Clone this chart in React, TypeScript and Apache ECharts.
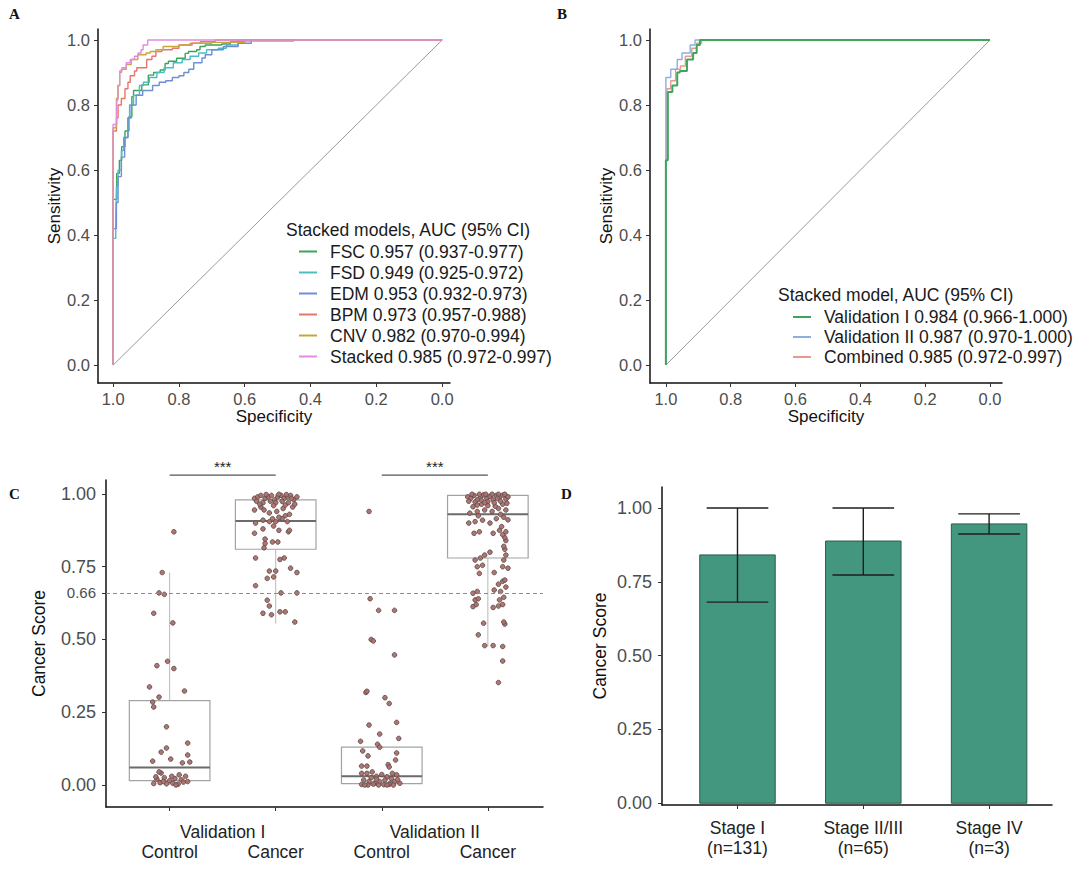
import React, { useEffect, useRef } from "react";
import * as echarts from "echarts";

const FONT = "Liberation Sans";
const SERIF = "Liberation Serif";

// ---------- Panel A / B : ROC ----------
const specTicks = [1, 0.8, 0.6, 0.4, 0.2, 0];
const sensTicks = [0, 0.2, 0.4, 0.6, 0.8, 1];
const diagonal = [[1, 0], [0, 1]];

const rocNamesA = [
  "FSC 0.957 (0.937-0.977)",
  "FSD 0.949 (0.925-0.972)",
  "EDM 0.953 (0.932-0.973)",
  "BPM 0.973 (0.957-0.988)",
  "CNV 0.982 (0.970-0.994)",
  "Stacked 0.985 (0.972-0.997)",
];
const rocColorsA = ["#3aa457", "#4cbcc4", "#6e8fd6", "#e8756c", "#c8a738", "#e28be0"];

const fscRoc = [[1, 0], [1, 0.47], [0.989, 0.51], [0.981, 0.59], [0.974, 0.63], [0.964, 0.672], [0.952, 0.72], [0.943, 0.764], [0.938, 0.826], [0.913, 0.845], [0.893, 0.862], [0.877, 0.892], [0.857, 0.9], [0.842, 0.908], [0.832, 0.928], [0.807, 0.935], [0.781, 0.944], [0.771, 0.959], [0.746, 0.965], [0.736, 0.97], [0.72, 0.98], [0.67, 0.985], [0.644, 0.988], [0.6, 0.994], [0.574, 1], [0, 1]];
const fsdRoc = [[1, 0], [0.992, 0.39], [0.99, 0.45], [0.985, 0.55], [0.975, 0.6], [0.968, 0.66], [0.955, 0.7], [0.95, 0.76], [0.938, 0.8], [0.92, 0.83], [0.908, 0.86], [0.89, 0.87], [0.867, 0.885], [0.845, 0.9], [0.817, 0.915], [0.79, 0.93], [0.766, 0.94], [0.74, 0.95], [0.716, 0.96], [0.68, 0.97], [0.656, 0.975], [0.62, 0.985], [0.57, 1], [0, 1]];
const edmRoc = [[1, 0], [0.99, 0.42], [0.985, 0.5], [0.975, 0.58], [0.965, 0.64], [0.955, 0.7], [0.945, 0.76], [0.93, 0.8], [0.91, 0.83], [0.88, 0.845], [0.86, 0.86], [0.84, 0.87], [0.82, 0.875], [0.8, 0.885], [0.785, 0.89], [0.77, 0.9], [0.755, 0.91], [0.73, 0.93], [0.72, 0.945], [0.7, 0.955], [0.665, 0.97], [0.62, 0.98], [0.58, 0.99], [0.57, 1], [0, 1]];
const bpmRoc = [[1, 0], [1, 0.68], [0.99, 0.72], [0.985, 0.76], [0.975, 0.8], [0.964, 0.82], [0.955, 0.85], [0.948, 0.87], [0.935, 0.89], [0.928, 0.905], [0.898, 0.915], [0.882, 0.94], [0.87, 0.95], [0.852, 0.965], [0.82, 0.97], [0.8, 0.975], [0.76, 0.985], [0.735, 0.99], [0.69, 0.995], [0.65, 1], [0, 1]];
const cnvRoc = [[1, 0], [1, 0.71], [0.99, 0.73], [0.985, 0.82], [0.98, 0.86], [0.975, 0.9], [0.96, 0.91], [0.945, 0.925], [0.925, 0.94], [0.9, 0.955], [0.887, 0.96], [0.87, 0.965], [0.848, 0.97], [0.8, 0.98], [0.766, 0.985], [0.7, 0.99], [0.6, 0.993], [0.45, 0.997], [0.3, 1], [0, 1]];
const stackedRoc = [[1, 0], [1, 0.71], [0.989, 0.74], [0.986, 0.815], [0.98, 0.86], [0.973, 0.905], [0.96, 0.915], [0.948, 0.93], [0.935, 0.94], [0.924, 0.95], [0.915, 0.96], [0.909, 0.97], [0.895, 0.985], [0.882, 1], [0, 1]];
const rocDataA = [fscRoc, fsdRoc, edmRoc, bpmRoc, cnvRoc, stackedRoc];

const rocNamesB = [
  "Validation I 0.984 (0.966-1.000)",
  "Validation II 0.987 (0.970-1.000)",
  "Combined 0.985 (0.972-0.997)",
];
const rocColorsB = ["#3ea65a", "#8eaee0", "#e59a8e"];
const valIRoc = [[1, 0], [1, 0.44], [0.994, 0.63], [0.98, 0.84], [0.965, 0.86], [0.957, 0.9], [0.935, 0.905], [0.916, 0.94], [0.905, 0.96], [0.895, 0.985], [0.875, 1], [0, 1]];
const valIIRoc = [[1, 0], [1, 0.63], [0.985, 0.885], [0.965, 0.91], [0.95, 0.94], [0.925, 0.96], [0.91, 0.985], [0.895, 1], [0, 1]];
const combinedRoc = [[1, 0], [1, 0.44], [0.997, 0.63], [0.985, 0.85], [0.97, 0.875], [0.955, 0.91], [0.94, 0.92], [0.92, 0.95], [0.905, 0.975], [0.89, 0.99], [0.88, 1], [0, 1]];
const rocDataB = [valIRoc, valIIRoc, combinedRoc];

// ---------- Panel C : cancer score boxplots ----------
const groupNames = ["Validation I", "Validation II"];
const classNames = ["Control", "Cancer", "Control", "Cancer"];
const scoreTicks = [0, 0.25, 0.5, 0.66, 0.75, 1];
const cutoff = 0.66;
// [position, lowWhisker, q1, median, q3, highWhisker]
const boxStats = [
  [1, 0.0, 0.015, 0.06, 0.29, 0.73],
  [2, 0.555, 0.81, 0.907, 0.98, 1.0],
  [3, 0.0, 0.005, 0.03, 0.13, 0.13],
  [4, 0.475, 0.78, 0.93, 0.995, 1.0],
];
const sigBrackets = [[1, 2, 1.065, "***"], [3, 4, 1.065, "***"]];

// [jitter offset, score]
const controlV1Pts = [[0.04, 0.87], [-0.07, 0.73], [-0.1, 0.66], [-0.05, 0.655], [-0.15, 0.59], [0.03, 0.557], [-0.12, 0.41], [-0.02, 0.425], [0.04, 0.4], [-0.19, 0.337], [-0.1, 0.302], [0.14, 0.323], [-0.16, 0.285], [-0.15, 0.268], [-0.03, 0.2], [0.17, 0.144], [-0.08, 0.113], [-0.03, 0.127], [0.01, 0.089], [-0.16, 0.082], [0.17, 0.103], [0.12, 0.076], [0.19, 0.079], [-0.08, 0.041], [-0.12, 0.02], [-0.05, 0.025], [0.0, 0.015], [0.05, 0.022], [0.11, 0.018], [0.15, 0.03], [-0.15, 0.005], [-0.09, 0.008], [-0.03, 0.004], [0.03, 0.006], [0.08, 0.003], [0.13, 0.01], [-0.06, 0.012], [0.02, 0.03], [0.09, 0.035], [-0.1, 0.045], [0.06, 0.0], [-0.13, 0.028], [0.17, 0.012]];
const cancerV1Pts = [[0.18, 0.56], [-0.12, 0.59], [-0.04, 0.585], [0.04, 0.595], [0.09, 0.595], [-0.06, 0.615], [-0.08, 0.635], [0.05, 0.66], [0.2, 0.66], [-0.19, 0.685], [-0.08, 0.71], [-0.06, 0.735], [-0.02, 0.715], [0.0, 0.735], [0.14, 0.745], [0.2, 0.73], [-0.19, 0.78], [0.04, 0.775], [0.08, 0.78], [-0.1, 0.83], [-0.03, 0.835], [0.02, 0.835], [-0.1, 0.845], [-0.11, 0.815], [-0.2, 0.865], [0.03, 0.875], [0.12, 0.87], [-0.12, 0.88], [0.13, 0.875], [-0.19, 0.9], [-0.06, 0.905], [-0.03, 0.915], [0.0, 0.905], [0.06, 0.915], [0.11, 0.905], [-0.02, 0.89], [0.03, 0.92], [0.09, 0.925], [-0.12, 0.91], [0.13, 0.93], [-0.2, 0.945], [-0.14, 0.955], [-0.11, 0.945], [0.01, 0.94], [0.16, 0.955], [0.07, 0.95], [-0.06, 0.935], [-0.2, 0.985], [-0.17, 0.99], [-0.14, 0.995], [-0.1, 0.985], [-0.07, 0.99], [-0.04, 0.995], [-0.01, 0.98], [0.02, 0.99], [0.05, 0.995], [0.08, 0.985], [0.11, 0.99], [0.14, 0.995], [0.17, 0.98], [0.2, 0.99], [-0.18, 0.975], [-0.12, 0.97], [-0.05, 0.975], [0.0, 0.97], [0.06, 0.975], [0.12, 0.97], [0.18, 0.965], [-0.09, 0.998], [0.03, 0.999], [0.1, 0.998], [-0.15, 0.965], [0.15, 0.985], [-0.02, 0.96], [0.09, 0.962]];
const controlV2Pts = [[-0.12, 0.94], [-0.11, 0.64], [-0.03, 0.6], [0.12, 0.6], [-0.1, 0.5], [-0.08, 0.495], [0.12, 0.447], [-0.15, 0.318], [-0.14, 0.322], [0.03, 0.3], [0.07, 0.28], [-0.12, 0.206], [0.14, 0.215], [-0.02, 0.175], [-0.2, 0.15], [0.16, 0.16], [-0.04, 0.14], [-0.02, 0.13], [-0.18, 0.117], [0.14, 0.11], [-0.13, 0.1], [0.13, 0.086], [0.06, 0.07], [0.07, 0.062], [-0.19, 0.065], [-0.14, 0.065], [-0.19, 0.04], [-0.14, 0.04], [-0.09, 0.045], [-0.05, 0.03], [0.0, 0.036], [0.05, 0.028], [0.1, 0.04], [0.14, 0.035], [-0.17, 0.017], [-0.12, 0.012], [-0.07, 0.006], [-0.02, 0.012], [0.03, 0.017], [0.08, 0.006], [0.12, 0.012], [0.17, 0.006], [-0.19, 0.002], [-0.13, 0.0], [-0.08, 0.003], [-0.03, 0.0], [0.02, 0.001], [0.07, 0.002], [0.11, 0.0], [-0.16, 0.0], [-0.05, 0.02], [0.05, 0.0], [0.15, 0.018], [-0.1, 0.025], [0.09, 0.022]];
const cancerV2Pts = [[0.1, 0.352], [0.14, 0.426], [-0.03, 0.479], [0.05, 0.479], [0.14, 0.476], [-0.09, 0.516], [-0.04, 0.556], [0.16, 0.553], [0.15, 0.56], [-0.14, 0.613], [-0.11, 0.62], [0.05, 0.61], [0.1, 0.615], [0.14, 0.62], [-0.12, 0.636], [-0.09, 0.64], [0.11, 0.636], [0.15, 0.645], [-0.14, 0.659], [-0.1, 0.665], [0.06, 0.67], [0.12, 0.665], [0.17, 0.68], [0.1, 0.69], [0.14, 0.7], [0.16, 0.704], [-0.08, 0.727], [0.06, 0.73], [-0.1, 0.75], [-0.05, 0.755], [0.14, 0.75], [0.19, 0.745], [-0.12, 0.773], [-0.07, 0.78], [-0.03, 0.79], [0.02, 0.8], [0.15, 0.773], [0.17, 0.79], [0.16, 0.81], [0.15, 0.82], [0.17, 0.84], [0.16, 0.85], [0.14, 0.86], [-0.13, 0.865], [-0.08, 0.87], [0.05, 0.865], [0.11, 0.875], [0.17, 0.87], [0.13, 0.888], [-0.18, 0.9], [-0.12, 0.905], [-0.05, 0.91], [0.02, 0.9], [0.08, 0.915], [0.15, 0.92], [0.19, 0.911], [-0.09, 0.925], [0.12, 0.93], [-0.17, 0.934], [-0.1, 0.94], [-0.03, 0.945], [0.04, 0.94], [0.1, 0.95], [0.17, 0.945], [-0.14, 0.956], [0.0, 0.96], [0.07, 0.958], [0.14, 0.965], [-0.06, 0.965], [-0.19, 0.99], [-0.16, 0.985], [-0.13, 0.995], [-0.1, 0.98], [-0.07, 0.99], [-0.04, 0.997], [-0.01, 0.985], [0.02, 0.992], [0.05, 0.98], [0.08, 0.995], [0.11, 0.988], [0.14, 0.996], [0.17, 0.982], [0.19, 0.99], [-0.18, 0.975], [-0.12, 0.972], [-0.06, 0.978], [0.0, 0.974], [0.06, 0.97], [0.12, 0.975], [0.18, 0.968], [-0.15, 0.999], [-0.08, 0.999], [-0.02, 0.999], [0.04, 0.999], [0.1, 0.999], [0.16, 0.999], [-0.1, 0.962], [0.09, 0.985], [-0.03, 0.97]];
const pointGroups = [controlV1Pts, cancerV1Pts, controlV2Pts, cancerV2Pts];

// ---------- Panel D : stage bars ----------
const stageNames = ["Stage I", "Stage II/III", "Stage IV"];
const stageN = [131, 65, 3];
const stageMean = [0.841, 0.888, 0.946];
const stageLow = [0.681, 0.773, 0.912];
const stageHigh = [1.0, 1.0, 0.98];
const barTicks = [0, 0.25, 0.5, 0.75, 1];

function buildOption() {
  const axisLine = { show: true, onZero: false, lineStyle: { color: "#111", width: 1.5 } };
  const tickStyle = { lineStyle: { color: "#333", width: 1 } };
  const tickLabel = { color: "#4d4d4d", fontFamily: FONT };

  const rocX = (gridIndex: number, min: number, max: number) => ({
    gridIndex, type: "value", inverse: true, min, max,
    name: "Specificity", nameLocation: "middle", nameGap: 24,
    nameTextStyle: { fontSize: 17, color: "#111", fontFamily: FONT },
    axisLine,
    axisTick: { show: true, length: 4, customValues: specTicks, ...tickStyle },
    axisLabel: { ...tickLabel, fontSize: 16.5, margin: 7, customValues: specTicks, formatter: (v: number) => v.toFixed(1) },
    splitLine: { show: false },
  });
  const rocY = (gridIndex: number) => ({
    gridIndex, type: "value", min: -0.055, max: 1.034,
    name: "Sensitivity", nameLocation: "middle", nameGap: 30,
    nameTextStyle: { fontSize: 17, color: "#111", fontFamily: FONT },
    axisLine,
    axisTick: { show: true, length: 4, customValues: sensTicks, ...tickStyle },
    axisLabel: { ...tickLabel, fontSize: 16.5, margin: 8, customValues: sensTicks, formatter: (v: number) => v.toFixed(1) },
    splitLine: { show: false },
  });

  const series: any[] = [];
  [0, 1].forEach((i) => {
    series.push({
      type: "line", xAxisIndex: i, yAxisIndex: i, data: diagonal, silent: true,
      symbol: "none", lineStyle: { color: "#9a9a9a", width: 1 }, z: 1,
    });
  });
  rocDataA.forEach((d, i) => {
    series.push({
      name: rocNamesA[i], type: "line", xAxisIndex: 0, yAxisIndex: 0, data: d, step: "start",
      symbol: "none", color: rocColorsA[i], lineStyle: { color: rocColorsA[i], width: 1.4 }, z: 2,
    });
  });
  rocDataB.forEach((d, i) => {
    series.push({
      name: rocNamesB[i], type: "line", xAxisIndex: 1, yAxisIndex: 1, data: d, step: "start",
      symbol: "none", color: rocColorsB[i], lineStyle: { color: rocColorsB[i], width: i === 0 ? 2 : 1.4 },
      z: i === 0 ? 4 : 4 - i,
    });
  });

  // boxes
  series.push({
    type: "custom", xAxisIndex: 2, yAxisIndex: 2, data: boxStats, silent: true, z: 2,
    renderItem: (_p: any, api: any) => {
      const x = api.value(0);
      const lo = api.value(1), q1 = api.value(2), med = api.value(3), q3 = api.value(4), hi = api.value(5);
      const hw = 0.38;
      const tl = api.coord([x - hw, q3]);
      const br = api.coord([x + hw, q1]);
      const m0 = api.coord([x - hw, med]);
      const m1 = api.coord([x + hw, med]);
      const wTop = api.coord([x, hi]);
      const wQ3 = api.coord([x, q3]);
      const wQ1 = api.coord([x, q1]);
      const wLo = api.coord([x, lo]);
      return {
        type: "group",
        children: [
          { type: "line", shape: { x1: wQ3[0], y1: wQ3[1], x2: wTop[0], y2: wTop[1] }, style: { stroke: "#b8b8b8", lineWidth: 1 } },
          { type: "line", shape: { x1: wQ1[0], y1: wQ1[1], x2: wLo[0], y2: wLo[1] }, style: { stroke: "#b8b8b8", lineWidth: 1 } },
          { type: "rect", shape: { x: tl[0], y: tl[1], width: br[0] - tl[0], height: br[1] - tl[1] }, style: { fill: "none", stroke: "#a3a3a3", lineWidth: 1.2 } },
          { type: "line", shape: { x1: m0[0], y1: m0[1], x2: m1[0], y2: m1[1] }, style: { stroke: "#6b6b6b", lineWidth: 2 } },
        ],
      };
    },
  });
  // jittered points
  pointGroups.forEach((pts, gi) => {
    const s: any = {
      type: "scatter", xAxisIndex: 2, yAxisIndex: 2, silent: true, z: 3,
      data: pts.map(([dx, v]) => [gi + 1 + dx, v]),
      symbol: "circle", symbolSize: 4.6,
      itemStyle: { color: "#ad6f69", borderColor: "#5a4c4c", borderWidth: 0.9, opacity: 0.95 },
    };
    if (gi === 0) {
      s.markLine = {
        silent: true, symbol: ["none", "none"], label: { show: false },
        lineStyle: { type: [4, 3], color: "#8c8c8c", width: 1 },
        data: [{ yAxis: cutoff }],
      };
    }
    series.push(s);
  });
  // significance brackets
  series.push({
    type: "custom", xAxisIndex: 2, yAxisIndex: 2, data: sigBrackets, silent: true, clip: false,
    renderItem: (_p: any, api: any) => {
      const a = api.coord([api.value(0), api.value(2)]);
      const b = api.coord([api.value(1), api.value(2)]);
      return {
        type: "group",
        children: [
          { type: "line", shape: { x1: a[0], y1: a[1], x2: b[0], y2: b[1] }, style: { stroke: "#555", lineWidth: 1.2 } },
          { type: "text", x: (a[0] + b[0]) / 2, y: a[1] - 1, style: { text: api.value(3), fontSize: 15, fill: "#222", fontFamily: FONT, textAlign: "center", textVerticalAlign: "bottom" } },
        ],
      };
    },
  });

  // bars D
  series.push({
    type: "custom", xAxisIndex: 4, yAxisIndex: 3, silent: true, z: 2,
    data: stageMean.map((m, i) => [i + 1, m]),
    renderItem: (_p: any, api: any) => {
      const x = api.value(0), v = api.value(1);
      const p0 = api.coord([x - 0.3, v]);
      const p1 = api.coord([x + 0.3, 0]);
      return { type: "rect", shape: { x: p0[0], y: p0[1], width: p1[0] - p0[0], height: p1[1] - p0[1] }, style: { fill: "#43977f", stroke: "#2c5b4d", lineWidth: 1 } };
    },
  });
  series.push({
    type: "custom", xAxisIndex: 4, yAxisIndex: 3, silent: true, z: 3,
    data: stageMean.map((_m, i) => [i + 1, stageLow[i], stageHigh[i]]),
    renderItem: (_p: any, api: any) => {
      const x = api.value(0), lo = api.value(1), hi = api.value(2);
      const cw = 0.245;
      const t0 = api.coord([x - cw, hi]), t1 = api.coord([x + cw, hi]);
      const b0 = api.coord([x - cw, lo]), b1 = api.coord([x + cw, lo]);
      const c0 = api.coord([x, hi]), c1 = api.coord([x, lo]);
      const st = { stroke: "#1e1e1e", lineWidth: 1.4 };
      return {
        type: "group",
        children: [
          { type: "line", shape: { x1: c0[0], y1: c0[1], x2: c1[0], y2: c1[1] }, style: st },
          { type: "line", shape: { x1: t0[0], y1: t0[1], x2: t1[0], y2: t1[1] }, style: st },
          { type: "line", shape: { x1: b0[0], y1: b0[1], x2: b1[0], y2: b1[1] }, style: st },
        ],
      };
    },
  });

  const panelLetter = (t: string, x: number, y: number) => ({
    type: "text", left: x, top: y,
    style: { text: t, fontSize: 15, fontWeight: "bold", fill: "#111", fontFamily: SERIF },
  });

  return {
    animation: false,
    backgroundColor: "#fff",
    textStyle: { fontFamily: FONT },
    grid: [
      { left: 98, top: 29, width: 352, height: 354 },
      { left: 650, top: 29, width: 352, height: 354 },
      { left: 106, top: 480, width: 437, height: 327 },
      { left: 662, top: 487, width: 390, height: 318 },
    ],
    xAxis: [
      rocX(0, -0.024, 1.046),
      rocX(1, -0.037, 1.049),
      {
        gridIndex: 2, type: "value", min: 0.4, max: 4.52, position: "bottom",
        axisLine,
        axisTick: { show: true, length: 4, customValues: [1, 2, 3, 4], ...tickStyle },
        axisLabel: { customValues: [1, 2, 3, 4], margin: 36, fontSize: 17.5, color: "#222", fontFamily: FONT, formatter: (v: number) => classNames[Math.round(v) - 1] },
        splitLine: { show: false },
      },
      {
        gridIndex: 2, type: "value", min: 0.4, max: 4.52, position: "bottom", offset: 0,
        axisLine: { show: false }, axisTick: { show: false },
        axisLabel: { customValues: [1.5, 3.5], margin: 16, fontSize: 17.5, color: "#222", fontFamily: FONT, formatter: (v: number) => (v < 2.5 ? groupNames[0] : groupNames[1]) },
        splitLine: { show: false },
      },
      {
        gridIndex: 3, type: "value", min: 0.4, max: 3.5,
        axisLine,
        axisTick: { show: true, length: 4, customValues: [1, 2, 3], ...tickStyle },
        axisLabel: {
          customValues: [1, 2, 3], margin: 13, fontSize: 17.5, lineHeight: 20, color: "#222", fontFamily: FONT,
          formatter: (v: number) => `${stageNames[Math.round(v) - 1]}\n(n=${stageN[Math.round(v) - 1]})`,
        },
        splitLine: { show: false },
      },
    ],
    yAxis: [
      rocY(0),
      rocY(1),
      {
        gridIndex: 2, type: "value", min: -0.0756, max: 1.048,
        name: "Cancer Score", nameLocation: "middle", nameGap: 58,
        nameTextStyle: { fontSize: 17.5, color: "#111", fontFamily: FONT },
        axisLine,
        axisTick: { show: true, length: 4, customValues: scoreTicks, ...tickStyle },
        axisLabel: {
          ...tickLabel, fontSize: 18, margin: 10, customValues: scoreTicks,
          formatter: (v: number) => (Math.abs(v - cutoff) < 1e-6 ? `{s|${v.toFixed(2)}}` : v.toFixed(2)),
          rich: { s: { fontSize: 15, color: "#4d4d4d", fontFamily: FONT } },
        },
        splitLine: { show: false },
      },
      {
        gridIndex: 3, type: "value", min: -0.006, max: 1.071,
        name: "Cancer Score", nameLocation: "middle", nameGap: 53,
        nameTextStyle: { fontSize: 17.5, color: "#111", fontFamily: FONT },
        axisLine,
        axisTick: { show: true, length: 4, customValues: barTicks, ...tickStyle },
        axisLabel: { ...tickLabel, fontSize: 18, margin: 10, customValues: barTicks, formatter: (v: number) => v.toFixed(2) },
        splitLine: { show: false },
      },
    ],
    legend: [
      {
        data: rocNamesA, left: 299, top: 241, orient: "vertical", icon: "rect", padding: 0,
        itemWidth: 18, itemHeight: 2, itemGap: 0, selectedMode: false,
        textStyle: { fontSize: 17.5, lineHeight: 21, color: "#1a1a1a", fontFamily: FONT, padding: [0, 0, 0, 8] },
      },
      {
        data: rocNamesB, left: 793, top: 307, orient: "vertical", icon: "rect", padding: 0,
        itemWidth: 18, itemHeight: 2, itemGap: 0, selectedMode: false,
        textStyle: { fontSize: 17.5, lineHeight: 20, color: "#1a1a1a", fontFamily: FONT, padding: [0, 0, 0, 8] },
      },
    ],
    graphic: [
      panelLetter("A", 9, 6),
      panelLetter("B", 557, 6),
      panelLetter("C", 9, 486),
      panelLetter("D", 561, 486),
      { type: "text", left: 286, top: 221, style: { text: "Stacked models, AUC (95% CI)", fontSize: 17.5, fill: "#1a1a1a", fontFamily: FONT } },
      { type: "text", left: 778, top: 286, style: { text: "Stacked model, AUC (95% CI)", fontSize: 17.5, fill: "#1a1a1a", fontFamily: FONT } },
    ],
    series,
  };
}

export default function App() {
  const ref = useRef<HTMLDivElement>(null);
  useEffect(() => {
    const chart = echarts.init(ref.current as HTMLDivElement, null, { renderer: "svg" });
    chart.setOption(buildOption() as any);
    return () => chart.dispose();
  }, []);
  return (
    <div
      ref={ref}
      style={{ position: "fixed", left: 0, top: 0, width: 1080, height: 869, background: "#fff" }}
    />
  );
}
